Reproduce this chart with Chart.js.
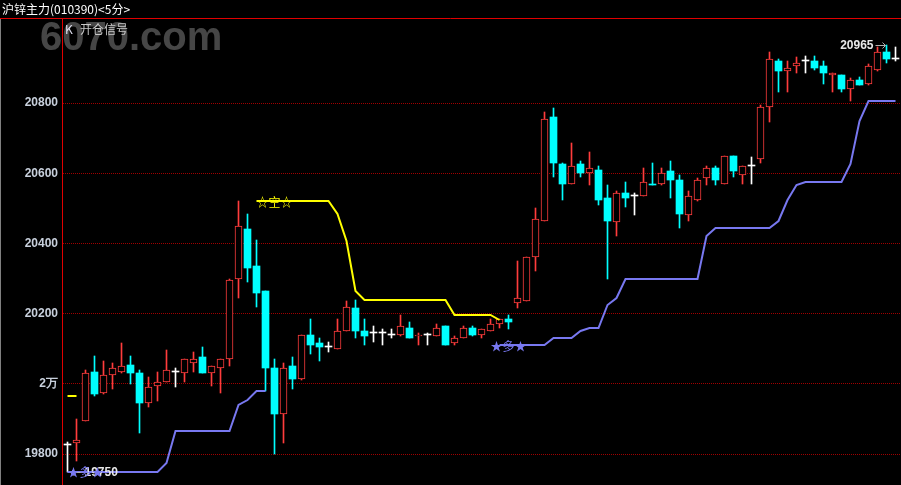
<!DOCTYPE html>
<html>
<head>
<meta charset="utf-8">
<title>沪锌主力 5分</title>
<script src="https://cdn.jsdelivr.net/npm/chart.js@4.4.1/dist/chart.umd.min.js"></script>
<style>
    html, body { margin: 0; padding: 0; background: #000; }
    #klineChart { display: block; }
</style>
</head>
<body>
<canvas id="klineChart" width="901" height="485"></canvas>
<script>
// 5-minute bars, left to right
const opens = [19825, 19830, 19895, 20035, 19975, 20025, 20035, 20055, 20030, 19945,
    19995, 20005, 20035, 20030, 20060, 20075, 20030, 20045, 20070, 20300,
    20440, 20335, 20265, 20045, 19915, 20050, 20015, 20140, 20115, 20105,
    20100, 20150, 20215, 20150, 20145, 20145, 20140, 20140, 20160, 20135,
    20140, 20135, 20165, 20115, 20130, 20160, 20140, 20150, 20170, 20185,
    20230, 20235, 20360, 20465, 20760, 20625, 20570, 20625, 20600, 20610,
    20530, 20460, 20545, 20535, 20535, 20570, 20570, 20605, 20580, 20480,
    20525, 20585, 20615, 20570, 20650, 20595, 20620, 20640, 20790, 20920,
    20890, 20905, 20920, 20920, 20905, 20880, 20880, 20840, 20865, 20855,
    20895, 20945, 20925];
const highs = [19835, 19900, 20040, 20080, 20065, 20060, 20115, 20080, 20040, 20020,
    20035, 20095, 20045, 20070, 20090, 20105, 20050, 20070, 20300, 20520,
    20485, 20410, 20265, 20070, 20060, 20075, 20140, 20185, 20130, 20120,
    20185, 20235, 20240, 20185, 20165, 20155, 20155, 20195, 20175, 20145,
    20145, 20170, 20165, 20135, 20165, 20165, 20155, 20185, 20185, 20195,
    20350, 20360, 20500, 20775, 20785, 20630, 20685, 20635, 20660, 20620,
    20565, 20550, 20575, 20545, 20615, 20630, 20615, 20635, 20595, 20550,
    20585, 20620, 20620, 20650, 20650, 20620, 20645, 20795, 20945, 20925,
    20920, 20930, 20935, 20935, 20920, 20885, 20880, 20870, 20875, 20910,
    20960, 20965, 20960];
const lows = [19750, 19780, 19895, 19965, 19970, 19985, 20030, 20000, 19860, 19935,
    19950, 20005, 19990, 20005, 20035, 20030, 19995, 19975, 20050, 20245,
    20290, 20220, 19980, 19800, 19830, 19985, 20010, 20085, 20065, 20090,
    20100, 20150, 20130, 20110, 20120, 20110, 20130, 20135, 20130, 20110,
    20110, 20135, 20110, 20110, 20130, 20135, 20130, 20150, 20160, 20155,
    20215, 20235, 20320, 20465, 20590, 20525, 20570, 20590, 20565, 20510,
    20300, 20420, 20505, 20480, 20535, 20565, 20565, 20530, 20445, 20465,
    20520, 20565, 20565, 20570, 20590, 20570, 20570, 20630, 20745, 20830,
    20830, 20885, 20885, 20895, 20855, 20830, 20830, 20805, 20850, 20850,
    20890, 20915, 20920];
const closes = [19825, 19840, 20030, 19970, 20025, 20045, 20050, 20030, 19945, 19990,
    20005, 20040, 20035, 20070, 20070, 20030, 20050, 20070, 20295, 20450,
    20330, 20260, 20045, 19915, 20045, 20015, 20140, 20110, 20105, 20105,
    20150, 20220, 20150, 20135, 20145, 20145, 20140, 20165, 20130, 20140,
    20140, 20160, 20110, 20130, 20160, 20140, 20155, 20170, 20185, 20175,
    20245, 20360, 20470, 20755, 20630, 20570, 20620, 20600, 20615, 20525,
    20465, 20545, 20530, 20535, 20575, 20565, 20600, 20580, 20485, 20535,
    20580, 20615, 20580, 20650, 20605, 20620, 20620, 20790, 20925, 20890,
    20900, 20915, 20920, 20900, 20885, 20885, 20840, 20865, 20850, 20905,
    20945, 20925, 20925];

// 开仓信号: short stop (yellow) and long stop (purple)
const shortStop = [19965, 19965, null, null, null, null, null, null, null, null,
    null, null, null, null, null, null, null, null, null, null,
    null, 20520, 20520, 20520, 20520, 20520, 20520, 20520, 20520, 20520,
    20483, 20406, 20264, 20240, 20240, 20240, 20240, 20240, 20240, 20240,
    20240, 20240, 20240, 20197, 20197, 20197, 20197, 20197, 20183, null,
    null, null, null, null, null, null, null, null, null, null,
    null, null, null, null, null, null, null, null, null, null,
    null, null, null, null, null, null, null, null, null, null,
    null, null, null, null, null, null, null, null, null, null,
    null, null, null];
const longStop = [19750, 19750, 19750, 19750, 19750, 19750, 19750, 19750, 19750, 19750,
    19750, 19775, 19865, 19865, 19865, 19865, 19865, 19865, 19865, 19940,
    19955, 19980, 19980, null, null, null, null, null, null, null,
    null, null, null, null, null, null, null, null, null, null,
    null, null, null, null, null, null, null, null, 20110, 20110,
    20110, 20110, 20110, 20110, 20130, 20130, 20130, 20150, 20160, 20160,
    20225, 20245, 20300, 20300, 20300, 20300, 20300, 20300, 20300, 20300,
    20300, 20420, 20445, 20445, 20445, 20445, 20445, 20445, 20445, 20465,
    20525, 20565, 20575, 20575, 20575, 20575, 20575, 20625, 20750, 20805,
    20805, 20805, 20805];

// signal bars: [bar index, text, which stop]
const signals = [[2, '★多★', 'long'], [23, '☆空☆', 'short'], [49, '★多★', 'long']];

const yTicks = [19800, 20000, 20200, 20400, 20600, 20800];
const yTickLabels = ['19800', '2万', '20200', '20400', '20600', '20800'];

const barLabels = opens.map((_, i) => String(i + 1));

const UP = '#ff3c3c';
const DOWN = '#00ffff';
const FLAT = '#ffffff';

function barColor(i) {
    if (closes[i] > opens[i]) return UP;
    if (closes[i] < opens[i]) return DOWN;
    return FLAT;
}

document.addEventListener('DOMContentLoaded', function() {
    const ctx = document.getElementById('klineChart').getContext('2d');
    const cjk = '"Noto Sans CJK SC", sans-serif';
    const num = '"Liberation Sans", Arial, sans-serif';

    const overlay = {
        id: 'overlay',
        beforeDraw(chart) {
            const c = chart.ctx;
            c.save();
            c.fillStyle = '#000';
            c.fillRect(0, 0, chart.width, chart.height);
            // watermark
            c.font = 'bold 40px ' + num;
            c.fillStyle = '#464646';
            c.textBaseline = 'alphabetic';
            c.fillText('6070.com', 40, 50);
            c.restore();
        },
        beforeDatasetsDraw(chart) {
            // snap candles and stop lines to whole pixels so the 1px edges stay sharp
            chart.data.datasets.forEach((ds, di) => {
                const meta = chart.getDatasetMeta(di);
                meta.data.forEach(el => {
                    if (meta.type === 'bar') {
                        const top = Math.round(Math.min(el.y, el.base));
                        let bottom = Math.round(Math.max(el.y, el.base));
                        if (bottom - top < 1) bottom = top + 1;
                        el.y = top;
                        el.base = bottom;
                    } else if (!el.skip) {
                        el.y = Math.round(el.y);
                    }
                });
            });
        },
        afterDatasetsDraw(chart) {
            const c = chart.ctx;
            const xs = chart.scales.x;
            const ys = chart.scales.y;
            c.save();

            // lowest price marker
            const lowIdx = lows.indexOf(Math.min(...lows));
            const lx = xs.getPixelForValue(lowIdx);
            const ly = Math.round(ys.getPixelForValue(lows[lowIdx])) + 0.5;
            c.strokeStyle = '#b0b0b0';
            c.lineWidth = 1;
            c.beginPath();
            c.moveTo(lx + 3, ly); c.lineTo(lx + 15, ly);
            c.moveTo(lx + 3, ly); c.lineTo(lx + 6, ly - 3);
            c.moveTo(lx + 3, ly); c.lineTo(lx + 6, ly + 3);
            c.stroke();
            c.font = 'bold 12px ' + num;
            c.fillStyle = '#e8e8e8';
            c.textBaseline = 'middle';
            c.textAlign = 'left';
            c.fillText(String(lows[lowIdx]), lx + 17, ly);

            // highest price marker
            const highIdx = highs.indexOf(Math.max(...highs));
            const hx = xs.getPixelForValue(highIdx);
            const hy = Math.round(ys.getPixelForValue(highs[highIdx])) + 0.5;
            c.beginPath();
            c.moveTo(hx - 11, hy); c.lineTo(hx - 1, hy);
            c.moveTo(hx - 1, hy); c.lineTo(hx - 4, hy - 3);
            c.moveTo(hx - 1, hy); c.lineTo(hx - 4, hy + 3);
            c.stroke();
            c.textAlign = 'right';
            c.fillText(String(highs[highIdx]), hx - 13, hy);

            // signal text
            c.font = '12px ' + cjk;
            c.textAlign = 'center';
            signals.forEach(([i, text, kind]) => {
                const v = kind === 'long' ? longStop[i] : shortStop[i];
                c.fillStyle = kind === 'long' ? '#7878f0' : '#ffff00';
                c.fillText(text, xs.getPixelForValue(i), ys.getPixelForValue(v) + 1);
            });
            c.restore();
        },
        afterDraw(chart) {
            const c = chart.ctx;
            const area = chart.chartArea;
            c.save();
            c.strokeStyle = '#e00000';
            c.lineWidth = 1;
            c.beginPath();
            c.moveTo(0, area.top + 0.5); c.lineTo(chart.width, area.top + 0.5);
            c.moveTo(area.left - 0.5, area.top); c.lineTo(area.left - 0.5, chart.height);
            c.stroke();
            c.strokeStyle = '#808080';
            c.beginPath();
            c.moveTo(0.5, area.top + 1); c.lineTo(0.5, chart.height);
            c.stroke();

            c.textBaseline = 'middle';
            c.textAlign = 'left';
            c.font = '12px ' + cjk;
            c.fillStyle = '#ffffff';
            c.fillText('沪锌主力(010390)<5分>', 2, 9);
            c.fillStyle = '#e0e0f0';
            c.fillText('K', 65, 29);
            c.fillStyle = '#c8c8c8';
            c.fillText('开仓信号', 80, 29);
            c.restore();
        }
    };

    new Chart(ctx, {
        type: 'bar',
        data: {
            labels: barLabels,
            datasets: [
                {
                    label: 'wick',
                    data: lows.map((l, i) => [l, highs[i]]),
                    backgroundColor: opens.map((_, i) => barColor(i)),
                    barThickness: 1,
                    grouped: false,
                    order: 3
                },
                {
                    label: 'body',
                    data: opens.map((o, i) => [Math.min(o, closes[i]), Math.max(o, closes[i])]),
                    backgroundColor: opens.map((_, i) => barColor(i) === UP ? '#000000' : barColor(i)),
                    borderColor: opens.map((_, i) => barColor(i)),
                    borderWidth: opens.map((_, i) => barColor(i) === UP ? 1 : 0),
                    borderSkipped: false,
                    barThickness: 7,
                    minBarLength: 1,
                    grouped: false,
                    order: 2
                },
                {
                    type: 'line',
                    label: 'short',
                    data: shortStop,
                    borderColor: '#ffff00',
                    borderWidth: 2,
                    pointRadius: 0,
                    spanGaps: false,
                    tension: 0,
                    order: 1
                },
                {
                    type: 'line',
                    label: 'long',
                    data: longStop,
                    borderColor: '#7878f0',
                    borderWidth: 2,
                    pointRadius: 0,
                    spanGaps: false,
                    tension: 0,
                    order: 1
                }
            ]
        },
        options: {
            responsive: false,
            animation: false,
            devicePixelRatio: 1,
            layout: { padding: { top: 18, right: 1, bottom: 0, left: 0 } },
            plugins: {
                legend: { display: false },
                tooltip: { enabled: false }
            },
            scales: {
                x: {
                    display: false,
                    offset: true,
                    grid: { display: false }
                },
                y: {
                    min: 19711.7,
                    max: 21042.2,
                    afterBuildTicks: (scale) => {
                        scale.ticks = yTicks.map(v => ({ value: v }));
                    },
                    afterFit: (scale) => {
                        scale.width = 63;
                        scale.paddingTop = 0;
                        scale.paddingBottom = 0;
                    },
                    ticks: {
                        autoSkip: false,
                        padding: 5,
                        color: '#c8d0dc',
                        font: { family: num, size: 12, weight: 'bold' },
                        callback: (value) => yTickLabels[yTicks.indexOf(value)]
                    },
                    grid: {
                        color: '#a00000',
                        lineWidth: 1,
                        drawTicks: false
                    },
                    border: { display: false, dash: [1, 1] }
                }
            }
        },
        plugins: [overlay]
    });
});
</script>
</body>
</html>
